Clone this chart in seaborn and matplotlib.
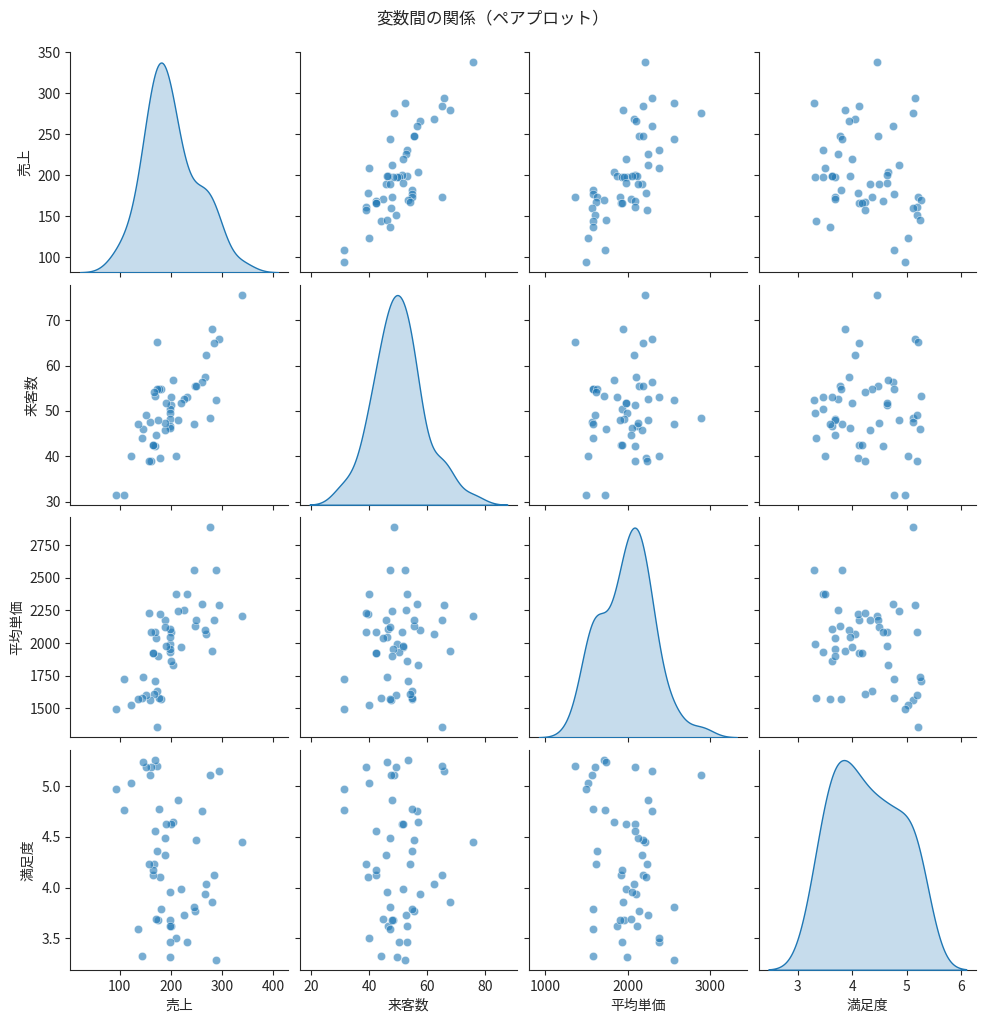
import matplotlib
matplotlib.use("Agg")
import matplotlib.pyplot as plt
import seaborn as sns
import pandas as pd

# 売上・来客数・平均単価・満足度
sales = [338.2, 294.5, 288.4, 284.8, 280.3, 276.3, 269.0, 266.5, 260.5, 247.5,
         248.3, 244.7, 231.3, 226.4, 220.4, 213.0, 209.4, 204.5, 199.7, 200.1,
         198.1, 198.1, 197.7, 198.9, 198.9, 190.0, 189.2, 189.2, 181.6, 179.0,
         176.6, 174.1, 173.0, 173.0, 170.9, 169.3, 168.9, 166.8, 166.0, 166.0,
         161.2, 157.3, 159.6, 151.0, 144.1, 144.9, 136.5, 123.1, 108.9, 93.9]
visitors = [75.7, 65.8, 52.4, 65.1, 68.0, 48.5, 62.4, 57.6, 56.4, 55.4,
            55.4, 47.2, 53.0, 52.6, 51.7, 47.9, 40.1, 56.9, 53.1, 51.3,
            50.4, 49.6, 48.3, 46.7, 46.3, 51.7, 45.8, 47.3, 54.8, 39.7,
            54.8, 47.9, 65.3, 54.8, 44.7, 53.3, 42.3, 54.2, 42.5, 42.5,
            39.0, 39.0, 47.5, 49.2, 44.0, 46.1, 47.2, 40.1, 31.5, 31.5]
unit_price = [2206, 2290, 2557, 2180, 1940, 2888, 2071, 2096, 2295, 2132,
              2179, 2557, 2378, 2250, 1973, 2246, 2378, 1829, 1865, 2086,
              1931, 1995, 1951, 2109, 2048, 1976, 2173, 2124, 1574, 2222,
              1582, 1904, 1355, 1630, 2036, 1708, 2087, 1611, 1920, 1925,
              2087, 2228, 1562, 1600, 1575, 1738, 1574, 1522, 1727, 1491]
satisfaction = [4.45, 5.15, 3.29, 4.12, 3.86, 5.11, 4.04, 3.94, 4.75, 3.77,
                4.47, 3.81, 3.46, 3.73, 3.99, 4.86, 3.50, 4.65, 3.62, 4.63,
                3.46, 3.32, 3.68, 3.62, 3.96, 4.63, 4.32, 4.49, 3.79, 4.10,
                4.77, 3.68, 5.20, 4.36, 3.69, 5.26, 4.56, 4.23, 4.12, 4.17,
                5.19, 4.23, 5.11, 5.19, 3.33, 5.24, 3.59, 5.03, 4.76, 4.97]

df = pd.DataFrame({
    "売上": sales,
    "来客数": visitors,
    "平均単価": unit_price,
    "満足度": satisfaction,
})

sns.set_style("ticks")
plt.rcParams["font.family"] = ["Noto Sans CJK JP", "DejaVu Sans"]

g = sns.pairplot(df, diag_kind="kde", height=2.5, plot_kws={"alpha": 0.6})
g.figure.suptitle("変数間の関係（ペアプロット）", y=1.02, fontsize=12)
plt.savefig("out.png", dpi=100, bbox_inches="tight")
